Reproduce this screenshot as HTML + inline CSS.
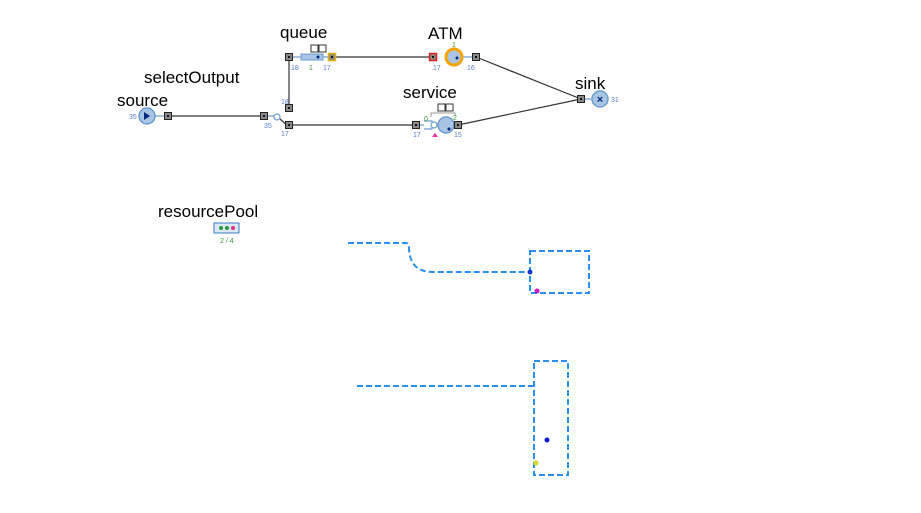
<!DOCTYPE html>
<html><head><meta charset="utf-8"><style>body{margin:0;background:#fff}svg{display:block}text{font-family:"Liberation Sans",sans-serif}</style></head><body>
<svg width="921" height="513" viewBox="0 0 921 513">
<g stroke="#333" stroke-width="1.2" fill="none">
<line x1="168" y1="116" x2="264" y2="116"/>
<line x1="289" y1="108" x2="289" y2="57"/>
<line x1="332" y1="57" x2="433" y2="57"/>
<line x1="289" y1="125" x2="416" y2="125"/>
<line x1="476" y1="57" x2="581" y2="99"/>
<line x1="458" y1="125" x2="581" y2="99"/>
<line x1="280" y1="119" x2="287" y2="125"/>
</g>
<g stroke="#6a9ccf" stroke-width="1.2" fill="none">
<line x1="155" y1="116" x2="168" y2="116"/>
<line x1="264" y1="116" x2="274" y2="116"/>
<circle cx="277" cy="117" r="3" fill="#fff"/>
<line x1="289" y1="57" x2="301" y2="57"/>
<line x1="323" y1="57" x2="332" y2="57"/>
<line x1="462" y1="57" x2="476" y2="57"/>
<line x1="581" y1="99" x2="592" y2="99"/>
<line x1="416" y1="125" x2="424" y2="125"/>
<path d="M424 121h8v8h-8"/>
<circle cx="434" cy="125" r="3" fill="#fff"/>
</g>
<circle cx="147" cy="116" r="8" fill="#a9c4e4" stroke="#6a9ccf" stroke-width="1.5"/>
<path d="M144 112l6 4-6 4z" fill="#002a7a"/>
<rect x="301" y="54" width="22" height="6" fill="#a9c4e4" stroke="#6a9ccf"/>
<circle cx="318" cy="57" r="1.5" fill="#002a7a"/>
<rect x="311" y="45" width="7" height="7" fill="#fff" stroke="#333"/>
<rect x="319" y="45" width="7" height="7" fill="#fff" stroke="#333"/>
<circle cx="454" cy="57" r="8" fill="#a9c4e4" stroke="#f4a300" stroke-width="3"/>
<circle cx="457" cy="58" r="1.5" fill="#002a7a"/>
<circle cx="446" cy="125" r="8" fill="#a9c4e4" stroke="#6a9ccf" stroke-width="1.5"/>
<circle cx="449" cy="129" r="1.5" fill="#002a7a"/>
<path d="M431 117v-4h24v3" stroke="#999" fill="none"/>
<rect x="438" y="104" width="7" height="7" fill="#fff" stroke="#333"/>
<rect x="446" y="104" width="7" height="7" fill="#fff" stroke="#333"/>
<path d="M432 137l3-4 3 4z" fill="#e0309a"/>
<circle cx="600" cy="99" r="8" fill="#a9c4e4" stroke="#6a9ccf" stroke-width="1.5"/>
<text x="600" y="103" font-size="11" font-weight="bold" fill="#002a7a" text-anchor="middle">×</text>
<g fill="#888" stroke="#222" stroke-width="1">
<rect x="164.5" y="112.5" width="7" height="7"/><rect x="260.5" y="112.5" width="7" height="7"/>
<rect x="285.5" y="104.5" width="7" height="7"/><rect x="285.5" y="121.5" width="7" height="7"/>
<rect x="285.5" y="53.5" width="7" height="7"/><rect x="328.5" y="53.5" width="7" height="7" stroke="#e0b000" stroke-width="1.5"/>
<rect x="429.5" y="53.5" width="7" height="7" stroke="#e02020" stroke-width="1.5"/><rect x="472.5" y="53.5" width="7" height="7"/>
<rect x="412.5" y="121.5" width="7" height="7"/><rect x="454.5" y="121.5" width="7" height="7"/>
<rect x="577.5" y="95.5" width="7" height="7"/>
</g>
<g fill="#111">
<rect x="167" y="115" width="2" height="2"/><rect x="263" y="115" width="2" height="2"/>
<rect x="288" y="107" width="2" height="2"/><rect x="288" y="124" width="2" height="2"/>
<rect x="288" y="56" width="2" height="2"/><rect x="331" y="56" width="2" height="2"/>
<rect x="432" y="56" width="2" height="2"/><rect x="475" y="56" width="2" height="2"/>
<rect x="415" y="124" width="2" height="2"/><rect x="457" y="124" width="2" height="2"/>
<rect x="580" y="98" width="2" height="2"/>
</g>
<g font-size="7" fill="#5a7fd0">
<text x="129" y="119">35</text><text x="264" y="128">35</text><text x="281" y="136">17</text>
<text x="281" y="104">18</text><text x="291" y="70">18</text><text x="323" y="70">17</text>
<text x="433" y="70">17</text><text x="467" y="70">16</text><text x="413" y="137">17</text>
<text x="454" y="137">15</text><text x="611" y="102">31</text>
</g>
<g font-size="7" fill="#3a9a3a"><text x="309" y="70">1</text><text x="452" y="47">1</text><text x="424" y="121">0</text><text x="453" y="120">2</text><text x="220" y="243">2 / 4</text></g>
<g font-size="17" fill="#000">
<text x="117" y="106">source</text><text x="144" y="83">selectOutput</text>
<text x="280" y="38">queue</text><text x="428" y="39">ATM</text>
<text x="403" y="98">service</text><text x="575" y="89">sink</text>
<text x="158" y="217">resourcePool</text>
</g>
<rect x="214" y="223" width="25" height="10" fill="#dde8f5" stroke="#3a7cc0"/>
<circle cx="221" cy="228" r="2" fill="#2a9a3a"/><circle cx="227" cy="228" r="2" fill="#2a9a3a"/><circle cx="233" cy="228" r="2" fill="#e0307a"/>
<g stroke="#2a8ff0" stroke-width="2" stroke-dasharray="6,3" fill="none">
<path d="M348 243h58q3 0 3 4q0 25 24 25h97"/>
<rect x="530" y="251" width="59" height="42"/>
<line x1="357" y1="386" x2="534" y2="386"/>
<rect x="534" y="361" width="34" height="114"/>
</g>
<circle cx="530" cy="272" r="2.5" fill="#0a3ad0"/><circle cx="537" cy="291" r="2.5" fill="#c020c0"/>
<circle cx="547" cy="440" r="2.5" fill="#0a20d0"/><circle cx="536" cy="463" r="2.5" fill="#d8d820"/>
</svg>
</body></html>
